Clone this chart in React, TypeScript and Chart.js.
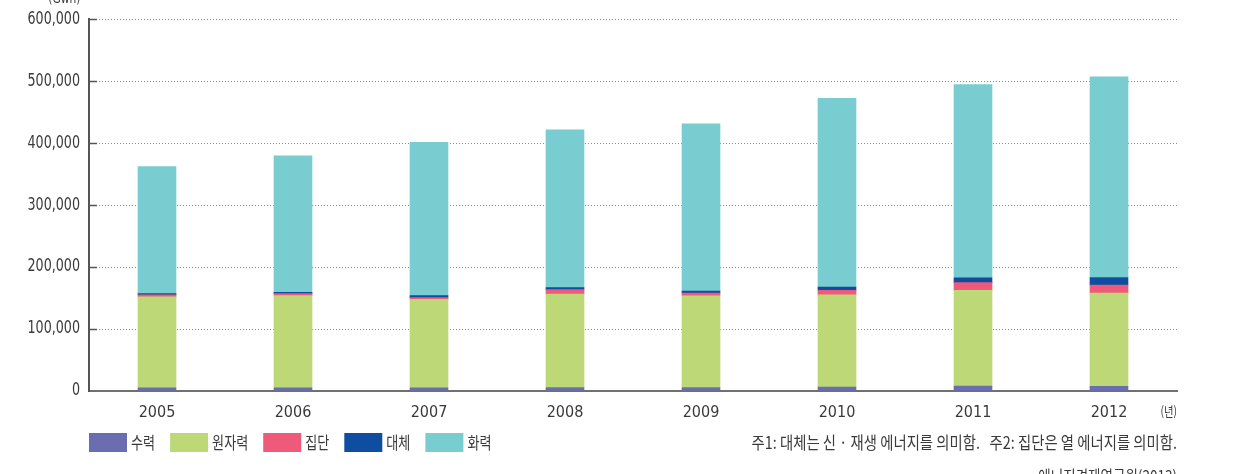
import React, { useEffect, useRef } from "react";
import { Chart, registerables } from "chart.js";

Chart.register(...registerables);

// Yearly power generation by source (GWh)
const years = ["2005", "2006", "2007", "2008", "2009", "2010", "2011", "2012"];
const hydro = [5200, 5200, 5000, 5600, 5600, 6500, 7800, 7700];
const nuclear = [146800, 148700, 142900, 151000, 147800, 148600, 154700, 150300];
const district = [3200, 3200, 2700, 7000, 4800, 7500, 12300, 12800];
const renewable = [2000, 2000, 3200, 3200, 3200, 5300, 8000, 12300];
const thermal = [205100, 220400, 247600, 254600, 269700, 304400, 311600, 323700];

const seriesLabels = ["수력", "원자력", "집단", "대체", "화력"];
const seriesColors = ["#6a6db0", "#bdd977", "#f05a7a", "#0e4d9f", "#79cdd0"];

const unitLabel = "(Gwh)";
const yearUnit = "(년)";
const footnote = "주1: 대체는 신 · 재생 에너지를 의미함.   주2: 집단은 열 에너지를 의미함.";
const source = "에너지경제연구원(2013)";

const NARROW = "'DejaVu Sans Condensed', 'Roboto', sans-serif";
const KOREAN = "'Noto Sans CJK KR', sans-serif";
const TEXT = "#3a3a3a";

function condensedText(
  ctx: CanvasRenderingContext2D,
  text: string,
  x: number,
  y: number,
  align: CanvasTextAlign,
  sx: number
) {
  ctx.save();
  ctx.translate(x, y);
  ctx.scale(sx, 1);
  ctx.textAlign = align;
  ctx.fillText(text, 0, 0);
  ctx.restore();
}

// Value-axis labels are drawn a little narrower, anchored at their right edge
const condensedValueLabels = {
  id: "condensedValueLabels",
  beforeDraw(chart: any) {
    const s = chart.scales.y;
    if (!s || s.__condensed) return;
    const original = s.drawLabels.bind(s);
    s.drawLabels = (area: any) => {
      const ctx = s.ctx;
      const ax = s.right - s.options.ticks.padding;
      ctx.save();
      ctx.translate(ax, 0);
      ctx.scale(0.83, 1);
      ctx.translate(-ax, 0);
      original(area);
      ctx.restore();
    };
    s.__condensed = true;
  },
};

// Short solid tick stubs on the inside of the value axis
const tickStubs = {
  id: "tickStubs",
  afterDraw(chart: any) {
    const { ctx, chartArea } = chart;
    const yScale = chart.scales.y;
    ctx.save();
    ctx.strokeStyle = "#555";
    ctx.lineWidth = 1.5;
    yScale.ticks.forEach((t: any) => {
      if (t.value === 0) return;
      const py = Math.round(yScale.getPixelForValue(t.value)) + 0.5;
      ctx.beginPath();
      ctx.moveTo(chartArea.left, py);
      ctx.lineTo(chartArea.left + 8, py);
      ctx.stroke();
    });
    ctx.restore();
  },
};

// Legend row, unit labels, footnote and source line
const notes = {
  id: "notes",
  afterDraw(chart: any) {
    const { ctx, chartArea } = chart;
    ctx.save();
    ctx.fillStyle = TEXT;
    ctx.textBaseline = "alphabetic";
    ctx.font = `14px ${NARROW}`;
    condensedText(ctx, unitLabel, 80.5, 3, "right", 0.85);

    ctx.textBaseline = "middle";
    ctx.font = `13px ${KOREAN}`;
    condensedText(ctx, yearUnit, chartArea.right, 411, "right", 0.8);

    // legend
    const sx = 0.77;
    ctx.font = `17px ${KOREAN}`;
    let x = chartArea.left;
    chart.data.datasets.forEach((ds: any) => {
      ctx.fillStyle = ds.backgroundColor;
      ctx.fillRect(x, 433, 38, 19);
      ctx.fillStyle = TEXT;
      const w = ctx.measureText(ds.label).width * sx;
      condensedText(ctx, ds.label, x + 42, 443, "left", sx);
      x += 38 + 4 + w + 15;
    });

    ctx.font = `17px ${KOREAN}`;
    condensedText(ctx, footnote, chartArea.right, 443, "right", 0.845);
    ctx.font = `16px ${KOREAN}`;
    condensedText(ctx, source, chartArea.right, 476, "right", 0.845);
    ctx.restore();
  },
};

export default function App() {
  const canvasRef = useRef<HTMLCanvasElement | null>(null);

  useEffect(() => {
    if (!canvasRef.current) return;
    const series = [hydro, nuclear, district, renewable, thermal];
    const chart = new Chart(canvasRef.current, {
      type: "bar",
      data: {
        labels: years,
        datasets: series.map((data, i) => ({
          label: seriesLabels[i],
          data,
          backgroundColor: seriesColors[i],
          borderWidth: 0,
          barThickness: 38,
        })),
      },
      plugins: [condensedValueLabels, tickStubs, notes],
      options: {
        animation: false,
        responsive: true,
        maintainAspectRatio: false,
        layout: { padding: { left: 0, right: 57, top: 18, bottom: 0 } },
        plugins: {
          legend: { display: false },
          tooltip: { enabled: false },
        },
        scales: {
          x: {
            stacked: true,
            grid: { display: false, drawTicks: false },
            border: { display: true, color: "#707070", width: 2 },
            ticks: {
              color: TEXT,
              font: { family: NARROW, size: 16 },
              padding: 12,
            },
            afterFit(scale: any) {
              scale.height = 83;
            },
          },
          y: {
            stacked: true,
            min: 0,
            max: 600000,
            grid: {
              color: "#8c8c8c",
              lineWidth: 1,
              drawTicks: false,
            },
            border: { display: true, color: "#555", width: 2, dash: [1, 2] },
            ticks: {
              stepSize: 100000,
              color: TEXT,
              font: { family: NARROW, size: 17 },
              padding: 9,
              callback: (v: any) => Number(v).toLocaleString("en-US"),
            },
            afterFit(scale: any) {
              scale.width = 89;
            },
          },
        },
      },
    });
    return () => chart.destroy();
  }, []);

  return (
    <div style={{ position: "fixed", left: 0, top: 0, width: 1234, height: 474, background: "#fff" }}>
      <canvas ref={canvasRef} />
    </div>
  );
}
